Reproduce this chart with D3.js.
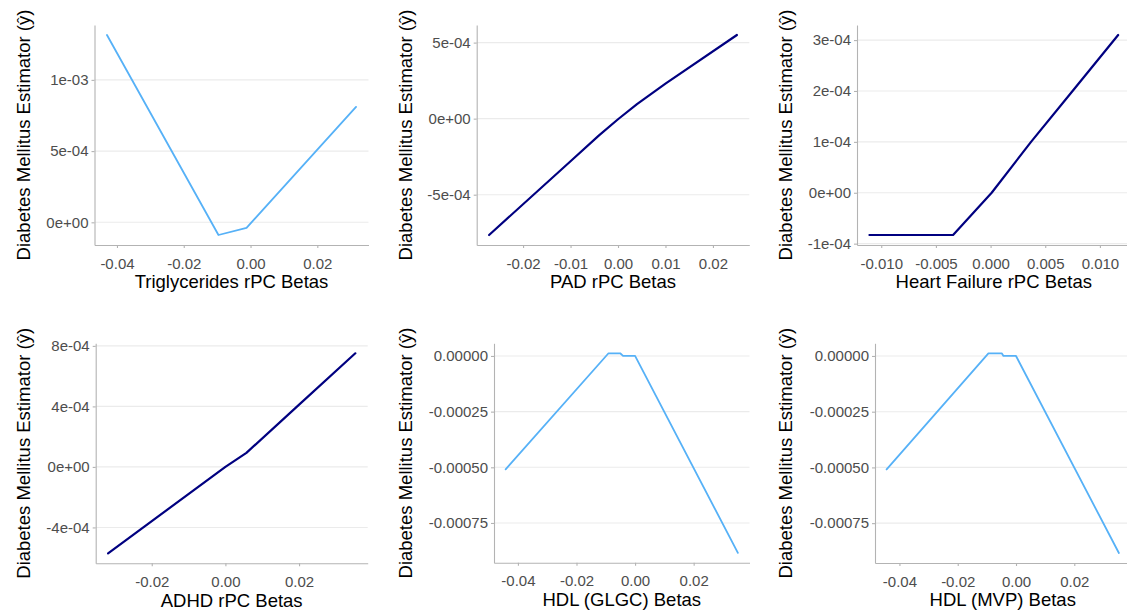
<!DOCTYPE html>
<html>
<head>
<meta charset="utf-8">
<script src="https://cdn.jsdelivr.net/npm/d3@7"></script>
<style>
  html, body { margin: 0; padding: 0; background: #ffffff; }
  svg { display: block; font-family: "Liberation Sans", Arial, sans-serif; }
</style>
</head>
<body>
<svg id="chart" width="1127" height="614"></svg>
<script>
// ---- Data: partial-dependence curves (beta -> estimated diabetes risk) ----
const trigBeta = [-0.0430, -0.0096, -0.0012, 0.0316];
const trigEst  = [1.315e-3, -8.9e-5, -3.9e-5, 8.1e-4];

const padBeta = [-0.02716, -0.0100, -0.0040, 0.0000, 0.0040, 0.0100, 0.02505];
const padEst  = [-7.65e-4, -2.80e-4, -1.10e-4, -4.0e-6, 9.5e-5, 2.30e-4, 5.50e-4];

const hfBeta = [-0.01108, -0.00343, 0.0001, 0.0037, 0.0075, 0.01167];
const hfEst  = [-8.3e-5, -8.3e-5, 0.0, 1.0e-4, 2.0e-4, 3.10e-4];

const adhdBeta = [-0.03186, 0.0000, 0.0057, 0.0195, 0.03528];
const adhdEst  = [-5.71e-4, 0.0, 9.3e-5, 4.0e-4, 7.51e-4];

const glgcBeta = [-0.0442, -0.00907, -0.0051, -0.0041, 0.0000, 0.0351];
const glgcEst  = [-5.09e-4, 1.2e-5, 1.2e-5, 0.0, 0.0, -8.84e-4];

const mvpBeta = [-0.0444, -0.00947, -0.0049, -0.0043, 0.0000, 0.0353];
const mvpEst  = [-5.09e-4, 1.2e-5, 1.2e-5, 0.0, 0.0, -8.84e-4];

// ---- Tick values and their labels ----
const trigXTicks = [-0.04, -0.02, 0, 0.02];
const trigXLabels = ["-0.04", "-0.02", "0.00", "0.02"];
const trigYTicks = [0, 5e-4, 1e-3];
const trigYLabels = ["0e+00", "5e-04", "1e-03"];

const padXTicks = [-0.02, -0.01, 0, 0.01, 0.02];
const padXLabels = ["-0.02", "-0.01", "0.00", "0.01", "0.02"];
const padYTicks = [-5e-4, 0, 5e-4];
const padYLabels = ["-5e-04", "0e+00", "5e-04"];

const hfXTicks = [-0.010, -0.005, 0, 0.005, 0.010];
const hfXLabels = ["-0.010", "-0.005", "0.000", "0.005", "0.010"];
const hfYTicks = [-1e-4, 0, 1e-4, 2e-4, 3e-4];
const hfYLabels = ["-1e-04", "0e+00", "1e-04", "2e-04", "3e-04"];

const adhdXTicks = [-0.02, 0, 0.02];
const adhdXLabels = ["-0.02", "0.00", "0.02"];
const adhdYTicks = [-4e-4, 0, 4e-4, 8e-4];
const adhdYLabels = ["-4e-04", "0e+00", "4e-04", "8e-04"];

const hdlXTicks = [-0.04, -0.02, 0, 0.02];
const hdlXLabels = ["-0.04", "-0.02", "0.00", "0.02"];
const hdlYTicks = [-0.00075, -0.0005, -0.00025, 0];
const hdlYLabels = ["-0.00075", "-0.00050", "-0.00025", "0.00000"];

const xTitles = ["Triglycerides rPC Betas", "PAD rPC Betas", "Heart Failure rPC Betas",
                 "ADHD rPC Betas", "HDL (GLGC) Betas", "HDL (MVP) Betas"];
const yTitle = "Diabetes Mellitus Estimator (\u0177)";

const lightBlue = "#56B1F7";
const navy = "#000080";

// ---- Panel layout (plot rectangles and title positions in pixels) ----
const layout = [
  { left: 94.5, width: 274, top: 25, height: 220, titleX: 30 },
  { left: 476.7, width: 272.6, top: 25, height: 220, titleX: 411.7 },
  { left: 857, width: 273.6, top: 25, height: 220, titleX: 791.7 },
  { left: 95.7, width: 272, top: 343.3, height: 220, titleX: 30 },
  { left: 494, width: 255.5, top: 343.3, height: 219.5, titleX: 411.7 },
  { left: 875, width: 255.5, top: 343.3, height: 219.7, titleX: 791.7 }
];

const series = [
  { x: trigBeta, y: trigEst, xt: trigXTicks, xl: trigXLabels, yt: trigYTicks, yl: trigYLabels, color: lightBlue, lw: 1.8 },
  { x: padBeta, y: padEst, xt: padXTicks, xl: padXLabels, yt: padYTicks, yl: padYLabels, color: navy, lw: 2.2 },
  { x: hfBeta, y: hfEst, xt: hfXTicks, xl: hfXLabels, yt: hfYTicks, yl: hfYLabels, color: navy, lw: 2.2 },
  { x: adhdBeta, y: adhdEst, xt: adhdXTicks, xl: adhdXLabels, yt: adhdYTicks, yl: adhdYLabels, color: navy, lw: 2.2 },
  { x: glgcBeta, y: glgcEst, xt: hdlXTicks, xl: hdlXLabels, yt: hdlYTicks, yl: hdlYLabels, color: lightBlue, lw: 1.8 },
  { x: mvpBeta, y: mvpEst, xt: hdlXTicks, xl: hdlXLabels, yt: hdlYTicks, yl: hdlYLabels, color: lightBlue, lw: 1.8 }
];

// continuous scale domain padded by 5% of the data range on each side
function paddedDomain(values) {
  const [lo, hi] = d3.extent(values);
  const pad = (hi - lo) * 0.05;
  return [lo - pad, hi + pad];
}

const svg = d3.select("#chart");

series.forEach((s, i) => {
  const L = layout[i];
  const x = d3.scaleLinear().domain(paddedDomain(s.x)).range([L.left, L.left + L.width]);
  const y = d3.scaleLinear().domain(paddedDomain(s.y)).range([L.top + L.height, L.top]);
  const g = svg.append("g");

  // horizontal major gridlines
  g.selectAll("line.grid")
    .data(s.yt)
    .join("line")
    .attr("class", "grid")
    .attr("x1", L.left).attr("x2", L.left + L.width)
    .attr("y1", d => y(d)).attr("y2", d => y(d))
    .attr("stroke", "#EBEBEB").attr("stroke-width", 1.1);

  // y axis
  const yAxis = d3.axisLeft(y)
    .tickValues(s.yt)
    .tickFormat((d, k) => s.yl[k])
    .tickSize(3).tickSizeOuter(0).tickPadding(3);
  const ya = g.append("g").attr("transform", `translate(${L.left},0)`).call(yAxis);

  // x axis
  const xAxis = d3.axisBottom(x)
    .tickValues(s.xt)
    .tickFormat((d, k) => s.xl[k])
    .tickSize(3).tickSizeOuter(0).tickPadding(10);
  const xa = g.append("g").attr("transform", `translate(0,${L.top + L.height})`).call(xAxis);

  [ya, xa].forEach(a => {
    a.select(".domain").attr("stroke", "#B3B3B3").attr("stroke-width", 1.1);
    a.selectAll(".tick line").attr("stroke", "#B3B3B3").attr("stroke-width", 1.1);
    a.selectAll(".tick text")
      .attr("fill", "#4D4D4D")
      .style("font-size", "15px")
      .style("font-family", "'Liberation Sans', Arial, sans-serif");
  });

  // curve
  const pts = s.x.map((v, k) => [v, s.y[k]]);
  const line = d3.line().x(d => x(d[0])).y(d => y(d[1]));
  g.append("path")
    .datum(pts)
    .attr("d", line)
    .attr("fill", "none")
    .attr("stroke", s.color)
    .attr("stroke-width", s.lw)
    .attr("stroke-linejoin", "round")
    .attr("stroke-linecap", "round");

  // axis titles
  g.append("text")
    .attr("x", L.left + L.width / 2)
    .attr("y", L.top + L.height + 43.3)
    .attr("text-anchor", "middle")
    .attr("fill", "#000")
    .style("font-size", "18.5px")
    .text(xTitles[i]);

  g.append("text")
    .attr("transform", `translate(${L.titleX},${L.top + L.height / 2}) rotate(-90)`)
    .attr("text-anchor", "middle")
    .attr("fill", "#000")
    .style("font-size", "18.5px")
    .text(yTitle);
});
</script>
</body>
</html>
